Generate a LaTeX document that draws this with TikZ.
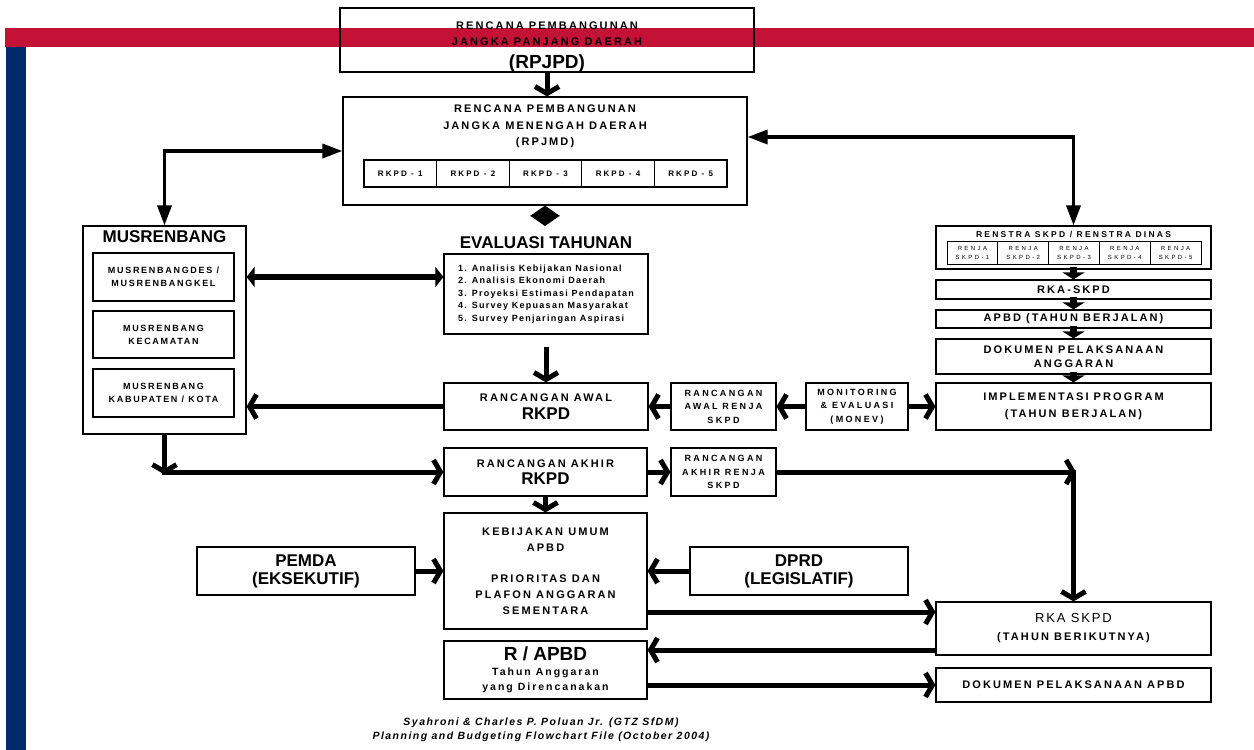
\documentclass[tikz,border=0pt]{standalone}
\usepackage{fontspec}
\setmainfont{Liberation Sans}
\newfontfamily\trackS[LetterSpace=14]{Liberation Sans}
\newfontfamily\trackT[LetterSpace=19]{Liberation Sans}
\newfontfamily\trackM[LetterSpace=26]{Liberation Sans}
\newfontfamily\trackL[LetterSpace=33]{Liberation Sans}
\newfontfamily\trackX[LetterSpace=40]{Liberation Sans}
\newcommand{\bigtx}{\rmfamily\bfseries\fontsize{17}{19}\selectfont}
\usetikzlibrary{arrows.meta}
\definecolor{barred}{RGB}{196,18,54}
\definecolor{barblue}{RGB}{0,42,108}

\begin{document}
\begin{tikzpicture}[x=1pt,y=-1pt,
    box/.style={draw,line width=1.2pt,inner sep=1pt,align=center},
    txt/.style={font=\trackT\bfseries\fontsize{11}{16.5}\selectfont},
    sml/.style={font=\trackM\bfseries\fontsize{9}{13.5}\selectfont},
    mini/.style={font=\trackX\fontsize{6}{9}\selectfont},
    lst/.style={font=\trackS\bfseries\fontsize{9}{12.6}\selectfont},
    big/.style={font=\bfseries\fontsize{17}{18}\selectfont},
    flow/.style={line width=5pt,-{Straight Barb[length=7pt,width=24pt]}},
    link/.style={line width=3.5pt,{Triangle[length=20pt,width=14pt]}-{Triangle[length=20pt,width=14pt]}},
    dual/.style={line width=6pt,{Triangle[length=8pt,width=20pt]}-{Triangle[length=8pt,width=20pt]}},
    twin/.style={line width=1pt,{Triangle[length=10.5pt,width=30pt]}-{Triangle[length=10.5pt,width=30pt]}},
    block/.style={line width=7pt,shorten <=-3pt,-{Triangle[length=7pt,width=22pt]}}]
    \useasboundingbox (0,0) rectangle (1254,750);
    % Definitions
    \coordinate (PJ) at (547,40);
    \coordinate (PT) at (547,47);
    \coordinate (MJ) at (545,151);
    \coordinate (MT) at (545,126.5);
    \coordinate (K1) at (400.3,173.5);
    \coordinate (K2) at (472.9,173.5);
    \coordinate (K3) at (545.5,173.5);
    \coordinate (K4) at (618.1,173.5);
    \coordinate (K5) at (690.7,173.5);
    \coordinate (EV) at (545,226);
    \coordinate (ET) at (546,243);
    \coordinate (EL) at (546,294);
    \coordinate (MU) at (164.5,330);
    \coordinate (MS) at (164.5,237);
    \coordinate (M1) at (163.5,277);
    \coordinate (M2) at (163.5,334.5);
    \coordinate (M3) at (163.5,393);
    \coordinate (AW) at (546,406.5);
    \coordinate (RA) at (723.5,406.5);
    \coordinate (MO) at (857,406.5);
    \coordinate (IP) at (1073.5,406.5);
    \coordinate (DA) at (1073.5,356.5);
    \coordinate (AB) at (1073.5,319);
    \coordinate (RK) at (1073.5,289.5);
    \coordinate (RS) at (1073.5,247.5);
    \coordinate (RT) at (1073.5,234.5);
    \coordinate (S1) at (972.4,252.5);
    \coordinate (S2) at (1023.2,252.5);
    \coordinate (S3) at (1074,252.5);
    \coordinate (S4) at (1124.8,252.5);
    \coordinate (S5) at (1175.6,252.5);
    \coordinate (AK) at (545.5,472);
    \coordinate (RR) at (723.5,472);
    \coordinate (CL) at (164.5,472);
    \coordinate (CR) at (1073.5,472);
    \coordinate (KU) at (545.5,571);
    \coordinate (PE) at (306,571);
    \coordinate (DP) at (799,571);
    \coordinate (RN) at (1073.5,628.5);
    \coordinate (AP) at (545.5,670);
    \coordinate (DD) at (1073.5,685);
    \coordinate (CA) at (541,730);
    % Rectangles
    \fill[barred]  (5,28) rectangle (1254,47);
    \fill[barblue] (6,47) rectangle (26,750);
    % Nodes
    \node(JaPa)   at (PJ) [box,minimum width=414pt,minimum height=64pt] {};
    \node(JaPaTe) at (PT) [txt,inner sep=0pt,align=center] {RENCANA PEMBANGUNAN\\JANGKA PANJANG DAERAH\\[6pt]{\rmfamily\bfseries\fontsize{19}{20}\selectfont (RPJPD)}};
    \node(JaMe)   at (MJ) [box,minimum width=404pt,minimum height=108pt] {};
    \node(JaMeTe) at (MT) [txt,inner sep=0pt,align=center] {RENCANA PEMBANGUNAN\\JANGKA MENENGAH DAERAH\\(RPJMD)};
    \node(RkPd1)  at (K1) [box,font=\trackM\bfseries\fontsize{8}{10}\selectfont,minimum width=72.6pt,minimum height=27pt] {RKPD - 1};
    \node(RkPd2)  at (K2) [box,font=\trackM\bfseries\fontsize{8}{10}\selectfont,minimum width=72.6pt,minimum height=27pt] {RKPD - 2};
    \node(RkPd3)  at (K3) [box,font=\trackM\bfseries\fontsize{8}{10}\selectfont,minimum width=72.6pt,minimum height=27pt] {RKPD - 3};
    \node(RkPd4)  at (K4) [box,font=\trackM\bfseries\fontsize{8}{10}\selectfont,minimum width=72.6pt,minimum height=27pt] {RKPD - 4};
    \node(RkPd5)  at (K5) [box,font=\trackM\bfseries\fontsize{8}{10}\selectfont,minimum width=72.6pt,minimum height=27pt] {RKPD - 5};
    \node(EvTa)   at (ET) [big,inner sep=0pt] {EVALUASI TAHUNAN};
    \node(EvLi)   at (EL) [box,lst,align=left,minimum width=204pt,minimum height=80pt] {1. Analisis Kebijakan Nasional\\2. Analisis Ekonomi Daerah\\3. Proyeksi Estimasi Pendapatan\\4. Survey Kepuasan Masyarakat\\5. Survey Penjaringan Aspirasi};
    \node(Musr)   at (MU) [box,minimum width=163pt,minimum height=208pt] {};
    \node(MuTi)   at (MS) [big,inner sep=0pt] {MUSRENBANG};
    \node(MuDe)   at (M1) [box,font=\trackT\bfseries\fontsize{9}{13}\selectfont,minimum width=141pt,minimum height=48pt] {MUSRENBANGDES /\\MUSRENBANGKEL};
    \node(MuKe)   at (M2) [box,font=\trackT\bfseries\fontsize{9}{13}\selectfont,minimum width=141pt,minimum height=47pt] {MUSRENBANG\\KECAMATAN};
    \node(MuKa)   at (M3) [box,font=\trackT\bfseries\fontsize{9}{13}\selectfont,minimum width=141pt,minimum height=48pt] {MUSRENBANG\\KABUPATEN / KOTA};
    \node(RaAw)   at (AW) [box,txt,minimum width=204pt,minimum height=47pt] {RANCANGAN AWAL\\[1pt]{\bigtx RKPD}};
    \node(RaAwRe) at (RA) [box,sml,minimum width=105pt,minimum height=47pt] {RANCANGAN\\AWAL RENJA\\SKPD};
    \node(MoEv)   at (MO) [box,sml,minimum width=102pt,minimum height=47pt] {MONITORING\\\& EVALUASI\\(MONEV)};
    \node(ImPr)   at (IP) [box,txt,minimum width=275pt,minimum height=47pt] {IMPLEMENTASI PROGRAM\\(TAHUN BERJALAN)};
    \node(DoPeAn) at (DA) [box,font=\trackT\bfseries\fontsize{11}{14}\selectfont,minimum width=275pt,minimum height=35pt] {DOKUMEN PELAKSANAAN\\ANGGARAN};
    \node(APBe)   at (AB) [box,txt,minimum width=275pt,minimum height=18pt] {APBD (TAHUN BERJALAN)};
    \node(RKSK)   at (RK) [box,txt,minimum width=275pt,minimum height=19pt] {RKA-SKPD};
    \node(ReSk)   at (RS) [box,minimum width=275pt,minimum height=43pt] {};
    \node(ReSkTi) at (RT) [font=\trackM\bfseries\fontsize{8.5}{10}\selectfont,inner sep=0pt] {RENSTRA SKPD / RENSTRA DINAS};
    \node(ReSk1)  at (S1) [box,mini,line width=1pt,minimum width=50.8pt,minimum height=23pt] {RENJA\\SKPD-1};
    \node(ReSk2)  at (S2) [box,mini,line width=1pt,minimum width=50.8pt,minimum height=23pt] {RENJA\\SKPD-2};
    \node(ReSk3)  at (S3) [box,mini,line width=1pt,minimum width=50.8pt,minimum height=23pt] {RENJA\\SKPD-3};
    \node(ReSk4)  at (S4) [box,mini,line width=1pt,minimum width=50.8pt,minimum height=23pt] {RENJA\\SKPD-4};
    \node(ReSk5)  at (S5) [box,mini,line width=1pt,minimum width=50.8pt,minimum height=23pt] {RENJA\\SKPD-5};
    \node(RaAk)   at (AK) [box,txt,minimum width=203pt,minimum height=48pt] {RANCANGAN AKHIR\\[1pt]{\bigtx RKPD}};
    \node(RaAkRe) at (RR) [box,sml,minimum width=105pt,minimum height=48pt] {RANCANGAN\\AKHIR RENJA\\SKPD};
    \node(KeUm)   at (KU) [box,font=\trackT\bfseries\fontsize{11}{16}\selectfont,minimum width=203pt,minimum height=116pt] {KEBIJAKAN UMUM\\APBD\\[15pt]PRIORITAS DAN\\PLAFON ANGGARAN\\SEMENTARA};
    \node(PeEk)   at (PE) [box,big,minimum width=218pt,minimum height=48pt] {PEMDA\\(EKSEKUTIF)};
    \node(DpLe)   at (DP) [box,big,minimum width=218pt,minimum height=48pt] {DPRD\\(LEGISLATIF)};
    \node(RKTaBe) at (RN) [box,txt,minimum width=275pt,minimum height=53pt] {{\trackS\mdseries\fontsize{13}{16}\selectfont RKA SKPD}\\[1.5pt](TAHUN BERIKUTNYA)};
    \node(RaAP)   at (AP) [box,font=\trackT\bfseries\fontsize{10.5}{15}\selectfont,minimum width=203pt,minimum height=58pt] {{\rmfamily\bfseries\fontsize{19}{20}\selectfont R / APBD}\\Tahun Anggaran\\yang Direncanakan};
    \node(DoPeAP) at (DD) [box,txt,minimum width=275pt,minimum height=34pt] {DOKUMEN PELAKSANAAN APBD};
    \node(Credit) at (CA) [font=\trackS\bfseries\itshape\fontsize{10.5}{14}\selectfont,align=center,inner sep=0pt] {Syahroni \& Charles P. Poluan Jr. (GTZ SfDM)\\Planning and Budgeting Flowchart File (October 2004)};
    % Arrows
    \draw[flow]  (JaPa.south) -- (JaPa.south |- JaMe.north);
    \draw[link]  (JaMe.west) -| (Musr.north);
    \draw[link]  ([yshift=14pt]JaMe.east) -| (ReSk.north);
    \draw[twin]  (JaMe.south) -- (EV);
    \draw[dual]  (Musr.east |- MuDe) -- (EvLi.west |- MuDe);
    \draw[flow]  ([yshift=-12pt]EvLi.south) -- (RaAw.north);
    \draw[flow]  (RaAw.west) -- (RaAw.west -| Musr.east);
    \draw[flow]  (RaAwRe.west) -- (RaAw.east);
    \draw[flow]  (MoEv.west) -- (RaAwRe.east);
    \draw[flow]  (MoEv.east) -- (ImPr.west);
    \draw[block] (ReSk.south) -- (RKSK.north);
    \draw[block] (RKSK.south) -- (APBe.north);
    \draw[block] (APBe.south) -- (DoPeAn.north);
    \draw[block] (DoPeAn.south) -- (ImPr.north);
    \draw[flow]  (Musr.south) -- ([yshift=-2.5pt]CL);
    \draw[flow]  ([xshift=-2.5pt]CL) -- (RaAk.west);
    \draw[flow]  (RaAk.east) -- (RaAkRe.west);
    \draw[flow]  (RaAkRe.east) -- ([xshift=2.5pt]CR);
    \draw[flow]  ([yshift=2.5pt]CR) -- (RKTaBe.north);
    \draw[flow]  (RaAk.south) -- (KeUm.north);
    \draw[flow]  (PeEk.east) -- (KeUm.west);
    \draw[flow]  (DpLe.west) -- (KeUm.east);
    \draw[flow]  ([yshift=-41pt]KeUm.east) -- ([yshift=-41pt]KeUm.east -| RKTaBe.west);
    \draw[flow]  ([yshift=-21.5pt]RKTaBe.west) -- ([yshift=-21.5pt]RKTaBe.west -| RaAP.east);
    \draw[flow]  (RaAP.east |- DoPeAP.west) -- (DoPeAP.west);
\end{tikzpicture}
\end{document}
